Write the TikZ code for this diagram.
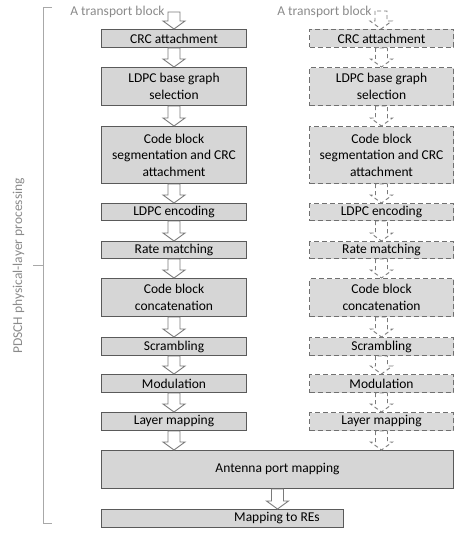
\documentclass[tikz,border=0pt]{standalone}
\usepackage{fontspec}
\setmainfont{Carlito}
\usetikzlibrary{calc}
\definecolor{boxfill}{HTML}{D6D6D6}
\definecolor{rboxfill}{HTML}{DADADA}
\definecolor{boxline}{HTML}{5A5A5A}
\definecolor{rboxline}{HTML}{707070}
\definecolor{arrline}{HTML}{7A7A7A}
\definecolor{labgray}{HTML}{8A8A8A}
\definecolor{brgray}{HTML}{A8A8A8}
\tikzset{
  basebox/.style={anchor=north west, inner sep=1pt, align=center,
    font=\fontsize{13.5pt}{16.5pt}\selectfont, text=black},
  lbox/.style={basebox, draw=boxline, fill=boxfill, line width=1pt},
  rbox/.style={basebox, draw=rboxline, fill=rboxfill, line width=1pt, dash pattern=on 5pt off 3pt},
  lab/.style={font=\fontsize{13.5pt}{16.5pt}\selectfont, text=labgray, inner sep=0pt},
  arrsty/.style={draw=arrline, fill=white, line width=0.9pt, line join=miter},
  rarrsty/.style={arrsty, dash pattern=on 4pt off 3pt},
  brsty/.style={draw=brgray, line width=0.8pt}
}
\newcommand{\barr}[3][]{%
  \path[arrsty,#1] let \p1=(#2), \p2=(#3) in
    (\x1-6pt,\y1) -- (\x1-6pt,\y2+8pt) -- (\x1-11pt,\y2+8pt) -- (\x2,\y2)
    -- (\x1+11pt,\y2+8pt) -- (\x1+6pt,\y2+8pt) -- (\x1+6pt,\y1) -- cycle;}
\begin{document}
\begin{tikzpicture}[x=1pt,y=1pt]
\useasboundingbox (0,0) rectangle (466,-535);
% left column
\node[lbox, minimum width=145pt, minimum height=18pt] (L1) at (101,-29) {CRC attachment};
\node[lbox, minimum width=145pt, minimum height=38pt] (L2) at (101,-67) {LDPC base graph\\selection};
\node[lbox, minimum width=145pt, minimum height=57pt] (L3) at (101,-126) {Code block\\segmentation and CRC\\attachment};
\node[lbox, minimum width=145pt, minimum height=17pt] (L4) at (101,-203) {LDPC encoding};
\node[lbox, minimum width=145pt, minimum height=17pt] (L5) at (101,-241) {Rate matching};
\node[lbox, minimum width=145pt, minimum height=38pt] (L6) at (101,-278) {Code block\\concatenation};
\node[lbox, minimum width=145pt, minimum height=18pt] (L7) at (101,-337) {Scrambling};
\node[lbox, minimum width=145pt, minimum height=18pt] (L8) at (101,-374) {Modulation};
\node[lbox, minimum width=145pt, minimum height=18pt] (L9) at (101,-412) {Layer mapping};
% right column
\node[rbox, minimum width=144pt, minimum height=18pt] (R1) at (309,-29) {CRC attachment};
\node[rbox, minimum width=144pt, minimum height=38pt] (R2) at (309,-67) {LDPC base graph\\selection};
\node[rbox, minimum width=144pt, minimum height=57pt] (R3) at (309,-126) {Code block\\segmentation and CRC\\attachment};
\node[rbox, minimum width=144pt, minimum height=17pt] (R4) at (309,-203) {LDPC encoding};
\node[rbox, minimum width=144pt, minimum height=17pt] (R5) at (309,-241) {Rate matching};
\node[rbox, minimum width=144pt, minimum height=38pt] (R6) at (309,-278) {Code block\\concatenation};
\node[rbox, minimum width=144pt, minimum height=18pt] (R7) at (309,-337) {Scrambling};
\node[rbox, minimum width=144pt, minimum height=18pt] (R8) at (309,-374) {Modulation};
\node[rbox, minimum width=144pt, minimum height=18pt] (R9) at (309,-412) {Layer mapping};
% common boxes
\node[lbox, minimum width=352pt, minimum height=38pt] (ant) at (101,-450) {Antenna port mapping};
\node[lbox, minimum width=242pt, minimum height=18pt] (map) at (101,-509) {};
\node[lab, text=black] (maptxt) at (277,-518.5) {Mapping to REs};
% transport block labels
\node[lab] (tbL) at (117.5,-12) {A transport block};
\node[lab] (tbR) at (324.5,-12) {A transport block};
\coordinate (tbLa) at (174,-12);
\coordinate (tbRa) at (381,-11);
% left arrows
\barr{tbLa}{tbLa |- L1.north}
\foreach \a/\b in {L1/L2,L2/L3,L3/L4,L4/L5,L5/L6,L6/L7,L7/L8,L8/L9}{
  \barr{\a.south}{\b.north}
}
\barr{L9.south}{L9.south |- ant.north}
% right arrows
\barr[rarrsty]{tbRa}{tbRa |- R1.north}
\foreach \a/\b in {R1/R2,R2/R3,R3/R4,R4/R5,R5/R6,R6/R7,R7/R8,R8/R9}{
  \barr[rarrsty]{\a.south}{\b.north}
}
\barr[rarrsty]{R9.south}{R9.south |- ant.north}
% bottom arrow
\barr{ant.south}{ant.south |- map.north}
% bracket
\coordinate (brT) at (52,-7);
\coordinate (brB) at (52,-523);
\coordinate (brM) at (33,-265);
\draw[brsty] (brT) -- (43,-7) -- (43,-523) -- (brB);
\draw[brsty] (43,-265) -- (brM);
\node[lab, rotate=90] (pdsch) at (18.5,-266) {PDSCH physical-layer processing};
\end{tikzpicture}
\end{document}
